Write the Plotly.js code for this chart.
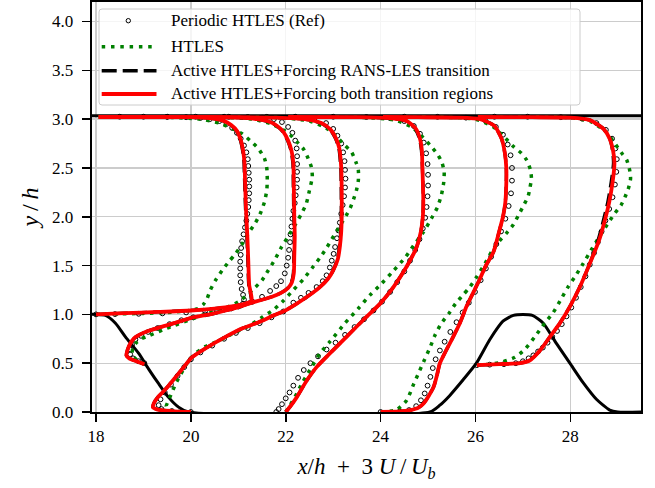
<!DOCTYPE html>
<html>
<head>
<meta charset="utf-8">
<script src="https://cdn.plot.ly/plotly-3.0.1.min.js"></script>
<style>html,body{margin:0;padding:0;background:#fff;}#chart{width:655px;height:488px;}</style>
</head>
<body>
<div id="chart"></div>
<script>
// ---------------- data (x/h + 3U/Ub , y/h) ----------------
// stations x/h = 0,1,2,4,6,8 (shifted by 18)
const STATIONS = [18, 19, 20, 22, 24, 26];

const HILL = [[17.9,1.0],[18.0,1.0],[18.2,0.99],[18.41,0.91],[18.62,0.77],[18.9,0.6],[19.11,0.44],[19.32,0.29],[19.53,0.15],[19.74,0.05],[19.95,0.0],[25.04,0.0],[25.25,0.07],[25.46,0.17],[25.74,0.33],[26.02,0.5],[26.3,0.74],[26.58,0.93],[26.8,0.99],[27.0,1.0],[27.2,0.99],[27.43,0.91],[27.71,0.7],[27.99,0.5],[28.27,0.3],[28.55,0.13],[28.83,0.02],[29.0,0.0],[29.5,0.0]];
const WALL_TOP = [[17.9,3.036],[29.5,3.036]];

// Periodic HTLES (Ref) - circles
const REF_S0 = [[18.0,1.0],[18.4,1.003],[18.9,1.006],[19.4,1.01],[19.9,1.02],[20.3,1.03],[20.6,1.045],[20.85,1.06],[21.0,1.08],[21.1,1.11],[21.12,1.15],[21.1,1.2],[21.07,1.26],[21.05,1.33],[21.04,1.4],[21.04,1.47],[21.04,1.54],[21.05,1.61],[21.06,1.68],[21.08,1.75],[21.11,1.82],[21.14,1.89],[21.17,1.96],[21.19,2.03],[21.21,2.1],[21.22,2.17],[21.23,2.24],[21.23,2.31],[21.23,2.38],[21.22,2.45],[21.21,2.52],[21.2,2.59],[21.17,2.66],[21.12,2.73],[21.05,2.8],[20.97,2.86],[20.87,2.91],[20.75,2.95],[20.6,2.98],[20.4,3.0],[20.2,3.012],[19.9,3.02],[19.5,3.024],[19.0,3.025],[18.5,3.025]];
const REF_S1 = [[19.02,0.5],[18.9,0.52],[18.78,0.55],[18.72,0.59],[18.72,0.64],[18.76,0.69],[18.83,0.74],[18.95,0.78],[19.1,0.82],[19.3,0.86],[19.55,0.9],[19.8,0.94],[20.05,0.97],[20.3,1.0],[20.55,1.03],[20.8,1.06],[21.05,1.09],[21.3,1.13],[21.5,1.18],[21.67,1.24],[21.8,1.29],[21.9,1.34],[21.98,1.42],[22.02,1.5],[22.05,1.58],[22.07,1.66],[22.09,1.74],[22.1,1.82],[22.12,1.9],[22.14,1.98],[22.16,2.06],[22.19,2.14],[22.21,2.22],[22.23,2.3],[22.24,2.38],[22.24,2.46],[22.24,2.54],[22.24,2.62],[22.23,2.7],[22.2,2.78],[22.14,2.86],[22.05,2.92],[21.92,2.97],[21.75,3.0],[21.5,3.015],[21.2,3.022],[20.7,3.025],[20.1,3.025],[19.5,3.025]];
const REF_S2 = [[20.0,0.0],[19.6,0.01],[19.38,0.03],[19.32,0.07],[19.36,0.13],[19.45,0.2],[19.58,0.28],[19.72,0.37],[19.86,0.46],[20.0,0.54],[20.2,0.61],[20.45,0.68],[20.7,0.75],[20.95,0.81],[21.2,0.86],[21.45,0.91],[21.7,0.97],[21.95,1.03],[22.16,1.12],[22.32,1.17],[22.48,1.22],[22.65,1.28],[22.78,1.34],[22.86,1.4],[22.93,1.48],[22.97,1.55],[23.01,1.62],[23.04,1.69],[23.08,1.78],[23.11,1.86],[23.14,1.94],[23.17,2.03],[23.2,2.12],[23.23,2.21],[23.25,2.3],[23.26,2.39],[23.25,2.48],[23.24,2.57],[23.21,2.66],[23.17,2.75],[23.09,2.83],[23.0,2.9],[22.85,2.96],[22.6,3.0],[22.2,3.018],[21.6,3.024],[20.8,3.025]];
const REF_S3 = [[21.8,0.0],[21.85,0.03],[21.92,0.08],[22.0,0.14],[22.08,0.2],[22.16,0.27],[22.26,0.35],[22.38,0.43],[22.52,0.5],[22.68,0.57],[22.86,0.64],[23.05,0.71],[23.25,0.79],[23.45,0.87],[23.65,0.95],[23.85,1.04],[24.03,1.13],[24.2,1.23],[24.35,1.33],[24.5,1.44],[24.62,1.55],[24.73,1.66],[24.82,1.77],[24.89,1.88],[24.94,1.99],[24.97,2.1],[24.99,2.21],[25.0,2.32],[25.0,2.43],[24.99,2.54],[24.96,2.65],[24.91,2.76],[24.83,2.85],[24.7,2.93],[24.5,2.98],[24.2,3.01],[23.7,3.022],[23.0,3.025],[22.2,3.025]];
const REF_S4 = [[24.0,0.0],[24.4,0.005],[24.6,0.02],[24.75,0.06],[24.85,0.12],[24.93,0.19],[24.99,0.27],[25.05,0.36],[25.1,0.45],[25.16,0.54],[25.25,0.63],[25.35,0.72],[25.47,0.82],[25.6,0.92],[25.73,1.02],[25.86,1.12],[25.99,1.23],[26.11,1.35],[26.22,1.47],[26.33,1.59],[26.44,1.72],[26.54,1.85],[26.63,1.98],[26.7,2.11],[26.75,2.24],[26.77,2.37],[26.77,2.5],[26.74,2.63],[26.68,2.74],[26.58,2.84],[26.43,2.92],[26.2,2.99],[25.8,3.015],[25.2,3.024],[24.5,3.025]];
const REF_S5 = [[26.03,0.48],[26.3,0.485],[26.6,0.49],[26.85,0.5],[27.0,0.52],[27.12,0.55],[27.22,0.58],[27.32,0.62],[27.42,0.66],[27.52,0.71],[27.62,0.77],[27.72,0.83],[27.82,0.9],[27.92,0.98],[28.02,1.07],[28.12,1.17],[28.22,1.28],[28.32,1.39],[28.41,1.51],[28.5,1.63],[28.58,1.74],[28.66,1.85],[28.74,1.96],[28.82,2.08],[28.89,2.2],[28.94,2.33],[28.97,2.46],[28.98,2.59],[28.95,2.7],[28.88,2.8],[28.75,2.89],[28.55,2.96],[28.25,3.005],[27.8,3.02],[27.1,3.025],[26.4,3.025]];

// HTLES - green dotted
const HTLES_S0 = [[18.0,1.0],[18.5,1.005],[19.0,1.01],[19.5,1.02],[19.9,1.035],[20.15,1.06],[20.26,1.1],[20.34,1.16],[20.41,1.25],[20.52,1.35],[20.66,1.45],[20.8,1.54],[20.94,1.62],[21.08,1.72],[21.21,1.83],[21.35,1.93],[21.46,2.03],[21.55,2.15],[21.6,2.27],[21.61,2.38],[21.6,2.5],[21.55,2.6],[21.42,2.7],[21.25,2.78],[21.08,2.85],[20.89,2.9],[20.6,2.96],[20.2,3.0],[19.6,3.018],[18.8,3.022],[18.05,3.022]];
const HTLES_S1 = [[19.02,0.49],[18.9,0.52],[18.8,0.56],[18.76,0.6],[18.78,0.66],[18.85,0.71],[18.95,0.75],[19.11,0.78],[19.4,0.84],[19.67,0.89],[19.95,0.94],[20.23,0.99],[20.5,1.03],[20.75,1.07],[21.01,1.13],[21.3,1.25],[21.5,1.35],[21.63,1.45],[21.77,1.56],[21.9,1.68],[22.04,1.79],[22.19,1.91],[22.33,2.03],[22.43,2.13],[22.5,2.27],[22.56,2.41],[22.54,2.51],[22.47,2.6],[22.38,2.69],[22.23,2.77],[22.09,2.84],[21.95,2.89],[21.7,2.95],[21.3,3.0],[20.7,3.018],[19.9,3.022],[19.05,3.022]];
const HTLES_S2 = [[20.0,0.0],[19.7,0.005],[19.52,0.02],[19.48,0.06],[19.53,0.12],[19.6,0.2],[19.68,0.29],[19.78,0.38],[19.88,0.47],[19.98,0.54],[20.12,0.61],[20.3,0.67],[20.59,0.73],[20.87,0.8],[21.22,0.88],[21.5,0.97],[21.75,1.05],[21.95,1.14],[22.16,1.25],[22.37,1.36],[22.58,1.49],[22.72,1.58],[22.86,1.68],[22.97,1.77],[23.07,1.85],[23.17,1.93],[23.27,2.01],[23.36,2.09],[23.43,2.18],[23.49,2.27],[23.53,2.37],[23.53,2.48],[23.48,2.56],[23.39,2.66],[23.25,2.73],[23.07,2.82],[22.85,2.91],[22.5,2.98],[21.9,3.015],[21.0,3.022],[20.05,3.022]];
const HTLES_S3 = [[22.0,0.0],[22.08,0.06],[22.2,0.16],[22.35,0.3],[22.51,0.43],[22.72,0.6],[22.93,0.72],[23.25,0.91],[23.53,1.06],[23.78,1.2],[23.99,1.3],[24.24,1.43],[24.53,1.59],[24.7,1.71],[24.9,1.84],[25.08,1.99],[25.2,2.1],[25.28,2.22],[25.33,2.35],[25.34,2.46],[25.29,2.56],[25.2,2.64],[25.05,2.73],[24.88,2.82],[24.65,2.92],[24.3,2.99],[23.6,3.018],[22.7,3.022],[22.05,3.022]];
const HTLES_S4 = [[24.0,0.0],[24.33,0.02],[24.55,0.12],[24.7,0.29],[24.82,0.42],[24.93,0.54],[25.05,0.67],[25.14,0.78],[25.27,0.9],[25.44,1.01],[25.58,1.11],[25.74,1.2],[25.88,1.28],[26.02,1.38],[26.2,1.52],[26.35,1.65],[26.5,1.75],[26.65,1.83],[26.8,1.92],[26.9,2.01],[27.02,2.12],[27.11,2.21],[27.15,2.3],[27.18,2.39],[27.16,2.48],[27.08,2.58],[26.97,2.65],[26.8,2.72],[26.62,2.81],[26.38,2.92],[26.0,3.0],[25.4,3.018],[24.6,3.022],[24.05,3.022]];
const HTLES_S5 = [[26.03,0.48],[26.3,0.49],[26.55,0.51],[26.83,0.56],[27.04,0.64],[27.25,0.77],[27.46,0.91],[27.64,1.02],[27.81,1.16],[27.95,1.28],[28.09,1.38],[28.27,1.52],[28.44,1.66],[28.62,1.8],[28.79,1.93],[28.93,2.03],[29.07,2.12],[29.16,2.21],[29.23,2.3],[29.27,2.39],[29.25,2.48],[29.19,2.58],[29.07,2.66],[28.94,2.75],[28.75,2.87],[28.45,2.97],[28.0,3.015],[27.2,3.022],[26.05,3.022]];

// Active HTLES+Forcing RANS-LES transition - black dashed
const RLT_S0 = [[18.0,1.0],[18.6,1.012],[19.3,1.025],[20.0,1.04],[20.5,1.06],[20.9,1.083],[21.15,1.11],[21.27,1.14],[21.26,1.2],[21.22,1.3],[21.2,1.55],[21.18,1.8],[21.15,2.1],[21.13,2.4],[21.12,2.55],[21.09,2.68],[21.04,2.79],[20.96,2.88],[20.84,2.94],[20.67,2.985],[20.4,3.01],[20.0,3.02],[19.3,3.022],[18.05,3.022]];
const RLT_S1 = [[19.02,0.49],[18.85,0.52],[18.7,0.55],[18.64,0.58],[18.66,0.63],[18.7,0.68],[18.76,0.73],[18.84,0.77],[19.04,0.82],[19.32,0.865],[19.65,0.91],[20.02,0.967],[20.4,1.0],[20.73,1.04],[21.0,1.075],[21.22,1.11],[21.5,1.15],[21.71,1.18],[21.9,1.22],[22.04,1.27],[22.12,1.33],[22.16,1.42],[22.17,1.6],[22.18,1.8],[22.17,2.0],[22.16,2.3],[22.15,2.55],[22.11,2.68],[22.04,2.78],[21.94,2.87],[21.81,2.93],[21.66,2.97],[21.4,3.0],[21.0,3.015],[20.3,3.02],[19.05,3.022]];
const RLT_S2 = [[20.0,0.0],[19.6,0.01],[19.3,0.025],[19.2,0.05],[19.22,0.09],[19.3,0.15],[19.4,0.2],[19.53,0.27],[19.7,0.37],[19.85,0.46],[20.02,0.56],[20.3,0.65],[20.73,0.77],[21.1,0.86],[21.43,0.92],[21.75,0.99],[21.99,1.04],[22.2,1.1],[22.45,1.18],[22.72,1.28],[22.9,1.37],[23.0,1.45],[23.09,1.57],[23.13,1.69],[23.16,1.85],[23.17,2.0],[23.17,2.25],[23.16,2.5],[23.12,2.7],[23.05,2.8],[22.94,2.89],[22.74,2.96],[22.4,3.0],[21.8,3.015],[21.0,3.02],[20.05,3.022]];
const RLT_S3 = [[22.0,0.0],[22.1,0.06],[22.23,0.15],[22.44,0.32],[22.65,0.46],[22.93,0.6],[23.28,0.77],[23.63,0.94],[23.99,1.11],[24.27,1.28],[24.55,1.49],[24.76,1.69],[24.85,1.85],[24.89,2.0],[24.9,2.17],[24.89,2.37],[24.88,2.52],[24.86,2.68],[24.82,2.8],[24.72,2.91],[24.55,2.98],[24.2,3.01],[23.5,3.02],[22.05,3.022]];
const RLT_S4 = [[24.0,0.0],[24.4,0.005],[24.63,0.02],[24.8,0.045],[24.91,0.09],[25.02,0.17],[25.12,0.26],[25.19,0.38],[25.25,0.5],[25.38,0.63],[25.53,0.77],[25.68,0.92],[25.81,1.08],[25.95,1.22],[26.09,1.36],[26.22,1.5],[26.38,1.64],[26.5,1.85],[26.58,2.0],[26.63,2.15],[26.65,2.35],[26.65,2.5],[26.62,2.65],[26.55,2.8],[26.4,2.93],[26.1,3.0],[25.6,3.016],[24.8,3.02],[24.05,3.022]];
const RLT_S5 = [[26.03,0.48],[26.5,0.49],[26.94,0.5],[27.15,0.53],[27.36,0.63],[27.57,0.77],[27.78,0.91],[27.99,1.08],[28.2,1.28],[28.41,1.52],[28.58,1.75],[28.69,1.95],[28.79,2.15],[28.86,2.35],[28.91,2.55],[28.89,2.68],[28.83,2.8],[28.7,2.9],[28.41,2.99],[28.0,3.015],[27.2,3.02],[26.05,3.022]];

// Active HTLES+Forcing both transition regions - red
const BOTH_S0 = [[18.0,1.0],[18.6,1.012],[19.3,1.025],[20.0,1.04],[20.5,1.06],[20.9,1.085],[21.15,1.11],[21.28,1.14],[21.27,1.2],[21.23,1.3],[21.21,1.55],[21.19,1.8],[21.16,2.1],[21.14,2.4],[21.13,2.55],[21.1,2.68],[21.05,2.79],[20.97,2.88],[20.85,2.94],[20.68,2.985],[20.4,3.01],[20.0,3.02],[19.3,3.022],[18.05,3.022]];
const BOTH_S1 = [[19.02,0.49],[18.85,0.52],[18.7,0.55],[18.64,0.58],[18.66,0.63],[18.7,0.68],[18.76,0.73],[18.84,0.77],[19.04,0.82],[19.32,0.865],[19.65,0.91],[20.02,0.967],[20.4,1.0],[20.73,1.04],[21.0,1.075],[21.22,1.11],[21.5,1.15],[21.71,1.18],[21.9,1.22],[22.05,1.27],[22.13,1.33],[22.17,1.42],[22.18,1.6],[22.19,1.8],[22.18,2.0],[22.17,2.3],[22.16,2.55],[22.12,2.68],[22.05,2.78],[21.95,2.87],[21.82,2.93],[21.67,2.97],[21.4,3.0],[21.0,3.015],[20.3,3.02],[19.05,3.022]];
const BOTH_S2 = [[20.0,0.0],[19.6,0.01],[19.3,0.025],[19.2,0.05],[19.22,0.09],[19.3,0.15],[19.4,0.2],[19.53,0.27],[19.7,0.37],[19.85,0.46],[20.02,0.56],[20.3,0.65],[20.73,0.77],[21.1,0.86],[21.43,0.92],[21.75,0.99],[21.99,1.04],[22.2,1.1],[22.45,1.18],[22.72,1.28],[22.9,1.37],[23.0,1.45],[23.1,1.57],[23.14,1.69],[23.17,1.85],[23.18,2.0],[23.18,2.25],[23.17,2.5],[23.13,2.7],[23.06,2.8],[22.95,2.89],[22.75,2.96],[22.4,3.0],[21.8,3.015],[21.0,3.02],[20.05,3.022]];
const BOTH_S3 = [[22.0,0.0],[22.1,0.06],[22.23,0.15],[22.44,0.32],[22.65,0.46],[22.93,0.6],[23.28,0.77],[23.63,0.94],[23.99,1.11],[24.27,1.28],[24.55,1.49],[24.76,1.69],[24.85,1.85],[24.89,2.0],[24.9,2.17],[24.89,2.37],[24.88,2.52],[24.87,2.68],[24.83,2.8],[24.73,2.91],[24.55,2.98],[24.2,3.01],[23.5,3.02],[22.05,3.022]];
const BOTH_S4 = [[24.0,0.0],[24.4,0.005],[24.63,0.02],[24.8,0.045],[24.91,0.09],[25.02,0.17],[25.12,0.26],[25.19,0.38],[25.25,0.5],[25.38,0.63],[25.53,0.77],[25.68,0.92],[25.81,1.08],[25.95,1.22],[26.09,1.36],[26.22,1.5],[26.38,1.64],[26.5,1.85],[26.58,2.0],[26.63,2.15],[26.65,2.35],[26.65,2.5],[26.62,2.65],[26.55,2.8],[26.4,2.93],[26.1,3.0],[25.6,3.016],[24.8,3.02],[24.05,3.022]];
const BOTH_S5 = [[26.03,0.48],[26.5,0.49],[26.94,0.5],[27.15,0.53],[27.36,0.63],[27.57,0.77],[27.78,0.91],[27.99,1.08],[28.2,1.28],[28.41,1.52],[28.6,1.75],[28.72,1.95],[28.82,2.15],[28.89,2.35],[28.93,2.55],[28.9,2.68],[28.83,2.8],[28.7,2.9],[28.41,2.99],[28.0,3.015],[27.2,3.02],[26.05,3.022]];

const X_TICKS = [18, 20, 22, 24, 26, 28];
const X_TICK_TEXT = ['18', '20', '22', '24', '26', '28'];
const Y_TICKS = [0, 0.5, 1, 1.5, 2, 2.5, 3, 3.5, 4];
const Y_TICK_TEXT = ['0.0', '0.5', '1.0', '1.5', '2.0', '2.5', '3.0', '3.5', '4.0'];
const LEGEND_LABELS = ['Periodic HTLES (Ref)', 'HTLES', 'Active HTLES+Forcing RANS-LES transition', 'Active HTLES+Forcing both transition regions'];
const X_TITLE = '<i>x</i>/<i>h</i>&nbsp;&nbsp;+&nbsp;&nbsp;3&nbsp;<i>U</i>&#8201;/&#8201;<i>U</i><sub><i>b</i></sub>';
const Y_TITLE = '<i>y</i>&#8201;/&#8201;<i>h</i>';

// ---------------- helpers ----------------
function joinProfiles(list) {
  const x = [], y = [];
  list.forEach((a, i) => {
    if (i) { x.push(null); y.push(null); }
    a.forEach(p => { x.push(p[0]); y.push(p[1]); });
  });
  return { x, y };
}
const ref = joinProfiles([REF_S0, REF_S1, REF_S2, REF_S3, REF_S4, REF_S5]);
const htles = joinProfiles([HTLES_S0, HTLES_S1, HTLES_S2, HTLES_S3, HTLES_S4, HTLES_S5]);
const rlt = joinProfiles([RLT_S0, RLT_S1, RLT_S2, RLT_S3, RLT_S4, RLT_S5]);
const both = joinProfiles([BOTH_S0, BOTH_S1, BOTH_S2, BOTH_S3, BOTH_S4, BOTH_S5]);
const hill = joinProfiles([HILL]);
const wall = joinProfiles([WALL_TOP]);

const FONT = 'Liberation Serif';

const traces = [
  { x: wall.x, y: wall.y, mode: 'lines', line: { color: '#000', width: 3 }, showlegend: false, hoverinfo: 'skip' },
  { x: hill.x, y: hill.y, mode: 'lines', line: { color: '#000', width: 3, shape: 'spline', smoothing: 0.6 }, showlegend: false, hoverinfo: 'skip' },
  { x: ref.x, y: ref.y, mode: 'markers', name: LEGEND_LABELS[0],
    marker: { symbol: 'circle-open', size: 4.8, color: '#000', line: { width: 1, color: '#000' } } },
  { x: htles.x, y: htles.y, mode: 'lines', name: LEGEND_LABELS[1],
    line: { color: '#008000', width: 3.5, dash: '3.5px,5.5px', shape: 'spline', smoothing: 0.6 } },
  { x: rlt.x, y: rlt.y, mode: 'lines', name: LEGEND_LABELS[2],
    line: { color: '#000', width: 3.3, dash: '13px,6px', shape: 'spline', smoothing: 0.6 } },
  { x: both.x, y: both.y, mode: 'lines', name: LEGEND_LABELS[3],
    line: { color: '#ff0000', width: 3.8, shape: 'spline', smoothing: 0.6 } }
];

// plot area pixel geometry
const L = 92, R = 14, T = 2, B = 76, W = 655, H = 488;
const PW = W - L - R, PH = H - T - B;
const PX = px => (px - L) / PW;
const PY = py => (H - B - py) / PH;

// custom legend (matplotlib-like)
const bx0 = PX(99), bx1 = PX(580), by0 = PY(105), by1 = PY(9);
const rx = 3 / PW, ry = 3 / PH;
const boxPath = `M ${bx0 + rx},${by1} L ${bx1 - rx},${by1} Q ${bx1},${by1} ${bx1},${by1 - ry} L ${bx1},${by0 + ry} Q ${bx1},${by0} ${bx1 - rx},${by0} L ${bx0 + rx},${by0} Q ${bx0},${by0} ${bx0},${by0 + ry} L ${bx0},${by1 - ry} Q ${bx0},${by1} ${bx0 + rx},${by1} Z`;
const rows = [20.7, 46.7, 70.7, 94];
const hx0 = PX(101.7), hx1 = PX(156.5);
const shapes = [
  { type: 'path', xref: 'paper', yref: 'paper', path: boxPath, fillcolor: 'rgba(255,255,255,0.8)', line: { color: '#cccccc', width: 1 }, layer: 'above' },
  { type: 'circle', xref: 'paper', yref: 'paper', x0: PX(126.1), x1: PX(130.5), y0: PY(rows[0] + 2.2), y1: PY(rows[0] - 2.2), line: { color: '#000', width: 1 }, layer: 'above' },
  { type: 'line', xref: 'paper', yref: 'paper', x0: hx0, x1: hx1, y0: PY(rows[1]), y1: PY(rows[1]), line: { color: '#008000', width: 3.5, dash: '3.5px,5.8px' }, layer: 'above' },
  { type: 'line', xref: 'paper', yref: 'paper', x0: hx0, x1: hx1, y0: PY(rows[2]), y1: PY(rows[2]), line: { color: '#000', width: 3.5, dash: '15px,6px' }, layer: 'above' },
  { type: 'line', xref: 'paper', yref: 'paper', x0: hx0, x1: hx1, y0: PY(rows[3]), y1: PY(rows[3]), line: { color: '#ff0000', width: 4 }, layer: 'above' }
];
const annotations = LEGEND_LABELS.map((t, i) => ({
  text: t, xref: 'paper', yref: 'paper', x: PX(169), y: PY(rows[i]), xanchor: 'left', yanchor: 'middle',
  showarrow: false, font: { family: FONT, size: 17, color: '#000' }
}));

const axisCommon = {
  showline: true, linecolor: '#000', linewidth: 1.8, mirror: true,
  ticks: 'outside', ticklen: 8, tickwidth: 1.5, tickcolor: '#000',
  showgrid: true, gridcolor: '#cccccc', gridwidth: 1.3, zeroline: false,
  tickfont: { family: FONT, size: 17, color: '#000' }, automargin: false
};

const layout = {
  width: W, height: H,
  margin: { l: L, r: R, t: T, b: B },
  paper_bgcolor: '#fff', plot_bgcolor: '#fff',
  font: { family: FONT, color: '#000' },
  showlegend: false,
  xaxis: Object.assign({}, axisCommon, {
    range: [17.915, 29.49], tickvals: X_TICKS, ticktext: X_TICK_TEXT,
    title: { text: X_TITLE, font: { family: FONT, size: 23, color: '#000' }, standoff: 13 }
  }),
  yaxis: Object.assign({}, axisCommon, {
    range: [0, 4.2], tickvals: Y_TICKS, ticktext: Y_TICK_TEXT.map(t => t + '\u2004'),
    title: { text: Y_TITLE, font: { family: FONT, size: 24, color: '#000' }, standoff: 6 }
  }),
  shapes: shapes,
  annotations: annotations
};

Plotly.newPlot('chart', traces, layout, { displayModeBar: false, staticPlot: true });
</script>
</body>
</html>
